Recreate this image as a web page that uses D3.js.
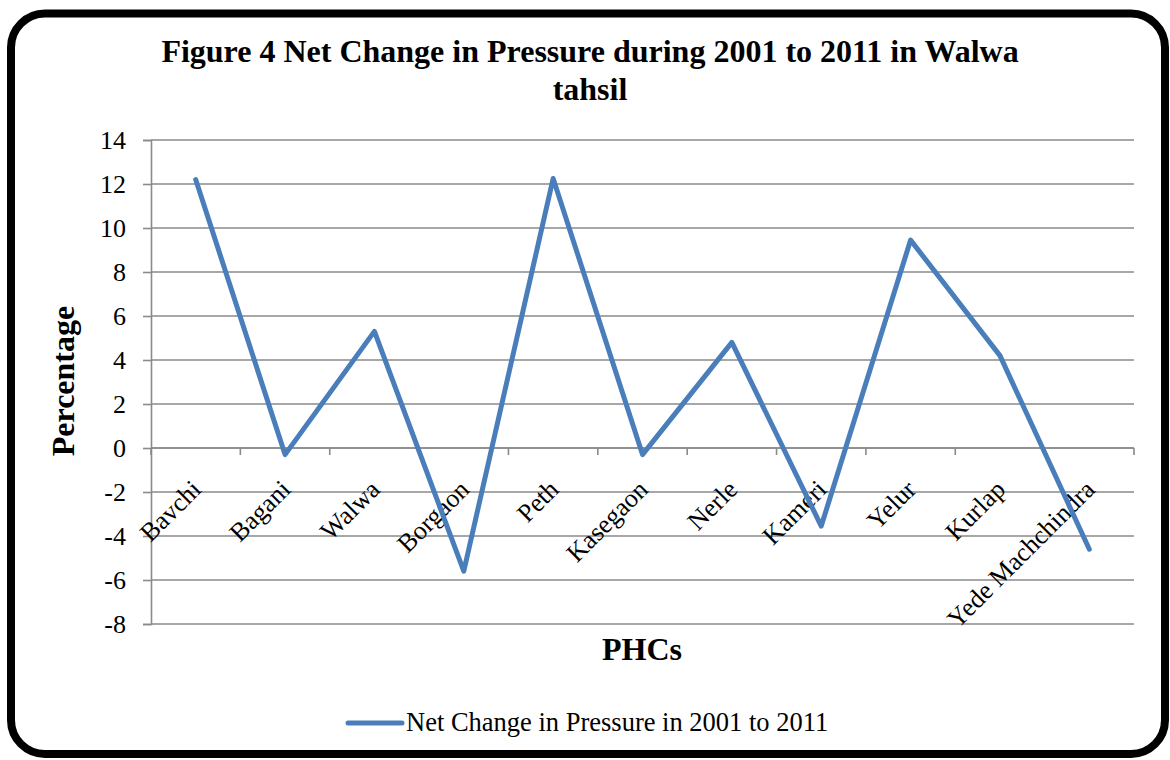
<!DOCTYPE html>
<html>
<head>
<meta charset="utf-8">
<script src="https://cdn.jsdelivr.net/npm/d3@7"></script>
<style>
  html, body { margin: 0; padding: 0; background: #fff; }
  svg { display: block; }
  text { font-family: "Liberation Serif", "Times New Roman", serif; fill: #000; }
</style>
</head>
<body>
<svg id="chart" width="1170" height="760"></svg>
<script>
// ---- data ----
const categories = ["Bavchi", "Bagani", "Walwa", "Borgaon", "Peth", "Kasegaon", "Nerle", "Kameri", "Yelur", "Kurlap", "Yede Machchindra"];
const values = [12.2, -0.3, 5.3, -5.6, 12.25, -0.3, 4.8, -3.55, 9.45, 4.2, -4.6];
const yTicks = [14, 12, 10, 8, 6, 4, 2, 0, -2, -4, -6, -8];
const titleLines = ["Figure 4 Net Change in Pressure during 2001 to 2011 in Walwa", "tahsil"];
const xTitle = "PHCs";
const yTitle = "Percentage";
const seriesName = "Net Change in Pressure in 2001 to 2011";

// ---- layout ----
const W = 1170, H = 760;
const plot = { left: 151, right: 1134, top: 140, bottom: 624 };
const lineColor = "#4a7ebb";
const gridColor = "#8a8a8a";
const serif = "Liberation Serif, Times New Roman, serif";

const svg = d3.select("#chart");

// frame
svg.append("rect")
  .attr("x", 11).attr("y", 13.5)
  .attr("width", 1154).attr("height", 740.5)
  .attr("rx", 34).attr("ry", 34)
  .attr("fill", "#fff").attr("stroke", "#000").attr("stroke-width", 8);

// scales
const x = d3.scaleBand().domain(categories).range([plot.left, plot.right]).padding(0);
const y = d3.scaleLinear().domain([-8, 14]).range([plot.bottom, plot.top]);

// gridlines
svg.append("g").selectAll("line").data(yTicks).join("line")
  .attr("x1", plot.left).attr("x2", plot.right)
  .attr("y1", d => y(d)).attr("y2", d => y(d))
  .attr("stroke", gridColor).attr("stroke-width", 1.6);

// y axis
const yAxis = svg.append("g")
  .attr("transform", `translate(${plot.left},0)`)
  .call(d3.axisLeft(y).tickValues(yTicks).tickSize(8).tickPadding(17).tickFormat(d3.format("d")));
yAxis.select(".domain").attr("stroke", gridColor).attr("stroke-width", 1.6);
yAxis.selectAll(".tick line").attr("stroke", gridColor).attr("stroke-width", 1.6);
yAxis.selectAll(".tick text")
  .attr("font-family", serif)
  .attr("font-size", 26).attr("fill", "#000")
  .text(d => d < 0 ? "-" + Math.abs(d) : d);

// x axis at zero with tick marks at category boundaries
const boundaries = d3.range(categories.length + 1).map(i => plot.left + i * x.bandwidth());
svg.append("line")
  .attr("x1", plot.left).attr("x2", plot.right)
  .attr("y1", y(0)).attr("y2", y(0))
  .attr("stroke", gridColor).attr("stroke-width", 1.6);
svg.append("g").selectAll("line").data(boundaries).join("line")
  .attr("x1", d => d).attr("x2", d => d)
  .attr("y1", y(0)).attr("y2", y(0) + 7)
  .attr("stroke", gridColor).attr("stroke-width", 1.6);

// category labels rotated -45
svg.append("g").selectAll("text").data(categories).join("text")
  .attr("transform", d => `translate(${x(d) + x.bandwidth() / 2 + 7},${y(0) + 43}) rotate(-45)`)
  .attr("text-anchor", "end")
  .attr("font-size", 26)
  .text(d => d);

// line
const line = d3.line()
  .x((d, i) => x(categories[i]) + x.bandwidth() / 2)
  .y(d => y(d));
svg.append("path")
  .datum(values)
  .attr("d", line)
  .attr("fill", "none")
  .attr("stroke", lineColor)
  .attr("stroke-width", 5)
  .attr("stroke-linejoin", "round")
  .attr("stroke-linecap", "round");

// title
svg.append("g").selectAll("text").data(titleLines).join("text")
  .attr("x", 590).attr("y", (d, i) => 62 + i * 38)
  .attr("text-anchor", "middle")
  .attr("font-size", 32).attr("font-weight", "bold")
  .text(d => d);

// axis titles
svg.append("text")
  .attr("x", 642).attr("y", 660)
  .attr("text-anchor", "middle")
  .attr("font-size", 32).attr("font-weight", "bold")
  .text(xTitle);
svg.append("text")
  .attr("transform", `translate(74,381) rotate(-90)`)
  .attr("text-anchor", "middle")
  .attr("font-size", 32).attr("font-weight", "bold")
  .text(yTitle);

// legend
svg.append("line")
  .attr("x1", 348).attr("x2", 402)
  .attr("y1", 723).attr("y2", 723)
  .attr("stroke", lineColor).attr("stroke-width", 5).attr("stroke-linecap", "round");
svg.append("text")
  .attr("x", 406).attr("y", 731)
  .attr("font-size", 26.5)
  .text(seriesName);
</script>
</body>
</html>
